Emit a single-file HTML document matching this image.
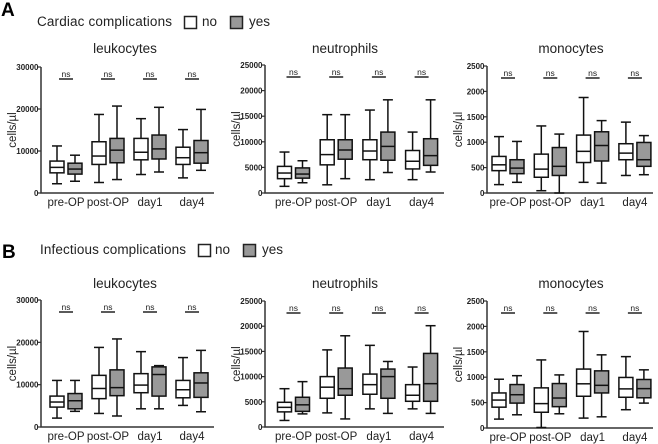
<!DOCTYPE html>
<html><head><meta charset="utf-8"><style>
body{margin:0;background:#fff;}
svg{display:block;font-family:"Liberation Sans",Arial,sans-serif;}
</style></head><body>
<svg id="chart" width="658" height="444" viewBox="0 0 658 444" xmlns="http://www.w3.org/2000/svg">
<g>
<text x="1" y="16" font-size="19" font-weight="bold">A</text>
<text x="37" y="26" font-size="13.5" fill="#222" textLength="135">Cardiac complications</text>
<rect x="184.5" y="16.5" width="12" height="12" fill="#fff" stroke="#222" stroke-width="1.5"/>
<text x="202" y="26" font-size="13.5" fill="#222">no</text>
<rect x="230.5" y="16.5" width="12" height="12" fill="#999" stroke="#222" stroke-width="1.5"/>
<text x="249" y="26" font-size="13.5" fill="#222">yes</text>
</g>
<g>
<text x="2" y="258" font-size="19" font-weight="bold">B</text>
<text x="40" y="254" font-size="13.5" fill="#222" textLength="146">Infectious complications</text>
<rect x="198.5" y="244.5" width="12" height="12" fill="#fff" stroke="#222" stroke-width="1.5"/>
<text x="215" y="254" font-size="13.5" fill="#222">no</text>
<rect x="243.5" y="244.5" width="12" height="12" fill="#999" stroke="#222" stroke-width="1.5"/>
<text x="262" y="254" font-size="13.5" fill="#222">yes</text>
</g>
</svg>
<script>
const categories = ["pre-OP","post-OP","day1","day4"];
// each box: [low, q1, median, q3, high]
const aLeukNo  = [[2200,4800,6100,7600,11200],[2500,6800,8800,12200,18700],[4400,7900,9700,13000,17700],[3600,6800,8400,10900,15100]];
const aLeukYes = [[2800,4500,5700,7100,9000],[3200,7200,10200,13000,20700],[5000,8100,10500,13800,20400],[5400,7100,9600,12500,19900]];
const aNeutNo  = [[1300,2800,3900,5200,8000],[1600,5500,7500,10400,15300],[2600,6500,8200,10400,16200],[2600,4700,6200,8300,11900]];
const aNeutYes = [[2000,2900,3700,4900,6300],[2800,6600,8400,10400,15300],[4000,6400,9100,11900,18200],[4100,5400,7300,10600,18200]];
const aMonoNo  = [[165,440,555,720,1110],[45,310,470,765,1320],[210,600,820,1140,1880],[345,655,785,970,1395]];
const aMonoYes = [[210,380,490,655,1015],[0,345,525,895,1160],[195,630,935,1205,1425],[360,525,655,995,1130]];
const bLeukNo  = [[2100,4700,5900,7300,11000],[3200,6700,9100,12200,18800],[4300,8100,9900,12600,17800],[5100,6900,8800,11000,16400]];
const bLeukYes = [[3700,4300,6200,7900,11000],[2600,7400,9300,13500,20800],[4300,7300,12400,14200,14500],[3600,7000,10400,12800,18100]];
const bNeutNo  = [[1300,3000,3900,4900,7600],[2800,5700,7900,10000,15300],[3600,6500,8400,10500,16200],[3600,5100,6300,8400,11900]];
const bNeutYes = [[2600,3100,4400,5900,9000],[1600,6300,7600,11700,18100],[2700,5700,10000,11500,13000],[2700,5100,8600,14600,20100]];
const bMonoNo  = [[175,410,550,690,960],[10,310,480,790,1340],[195,625,870,1160,1900],[360,605,770,995,1405]];
const bMonoYes = [[260,490,655,855,1030],[280,420,590,875,1045],[220,690,840,1125,1440],[490,595,775,955,1145]];
const leukTicks = [0,10000,20000,30000];
const neutTicks = [0,5000,10000,15000,20000,25000];
const monoTicks = [0,500,1000,1500,2000,2500];
const titles = ["leukocytes","neutrophils","monocytes"];

const svg = document.getElementById('chart');
const NS = "http://www.w3.org/2000/svg";
function mk(tag, attrs, parent){const e=document.createElementNS(NS,tag);for(const k in attrs)e.setAttribute(k,attrs[k]);(parent||svg).appendChild(e);return e;}

const panels = [
 {key:'a-leuk', ax:41, end:214, top:67, bot:193, first:66, step:42, max:30000, ticks:leukTicks, no:aLeukNo, yes:aLeukYes, title:titles[0], tx:125, ty:53},
 {key:'a-neut', ax:265, end:444, top:65, bot:193, first:293.5, step:42.7, max:25000, ticks:neutTicks, no:aNeutNo, yes:aNeutYes, title:titles[1], tx:345, ty:53},
 {key:'a-mono', ax:487, end:653, top:66, bot:193, first:508, step:42.3, max:2500, ticks:monoTicks, no:aMonoNo, yes:aMonoYes, title:titles[2], tx:571, ty:53},
 {key:'b-leuk', ax:41, end:214, top:300, bot:427, first:66, step:42, max:30000, ticks:leukTicks, no:bLeukNo, yes:bLeukYes, title:titles[0], tx:125, ty:288},
 {key:'b-neut', ax:265, end:444, top:301, bot:427, first:293.5, step:42.7, max:25000, ticks:neutTicks, no:bNeutNo, yes:bNeutYes, title:titles[1], tx:345, ty:288},
 {key:'b-mono', ax:487, end:653, top:301, bot:428, first:508, step:42.3, max:2500, ticks:monoTicks, no:bMonoNo, yes:bMonoYes, title:titles[2], tx:571, ty:288}
];

panels.forEach(p=>{
  const g = mk('g',{});
  
  
  const y = v => p.bot - (v/p.max)*(p.bot-p.top);
  const x = i => p.first + p.step*i;
  const t = mk('text',{x:p.tx,y:p.ty,'font-size':13.5,'text-anchor':'middle',fill:'#222'},g);
  t.textContent = p.title;
  
  
  const ax = mk('path',{d:`M${p.ax},${p.top} V${p.bot} H${p.end}`,fill:'none',stroke:'#333','stroke-width':1.5},g);
  
  
  p.ticks.forEach(v=>{
    mk('line',{x1:p.ax-3,x2:p.ax,y1:y(v),y2:y(v),stroke:'#333','stroke-width':1.2},g);
    const tl = mk('text',{x:p.ax-2.5,y:y(v)+3,'font-size':8,'font-weight':'bold','text-anchor':'end',fill:'#222'},g);
    tl.textContent = v;
    
    
  });
  const yl = mk('text',{x:0,y:0,'font-size':11.5,'text-anchor':'middle',fill:'#222',transform:`translate(${p.ax-25},${(p.top+p.bot)/2}) rotate(-90)`},g);
  yl.textContent = 'cells/µl';
  
  
  categories.forEach((c,i)=>{
    const xl = mk('text',{x:x(i),y:p.bot+13,'font-size':11.5,'text-anchor':'middle',fill:'#222'},g);
    xl.textContent = c;
    
    
    const ns = mk('text',{x:x(i),y:p.top+10,'font-size':8.5,'text-anchor':'middle',fill:'#222'},g);
    ns.textContent = 'ns';
    
    
    mk('line',{x1:x(i)-7,x2:x(i)+7,y1:p.top+12,y2:p.top+12,stroke:'#222','stroke-width':1.5},g);
    [[p.no[i],-9,'#fff','no'],[p.yes[i],9,'#999','yes']].forEach(([d,off,fill,s])=>{
      const cx = x(i)+off, w=14;
      const bg = mk('g',{},g);
      
      
      mk('line',{x1:cx,x2:cx,y1:y(d[0]),y2:y(d[4]),stroke:'#111','stroke-width':1.5},bg);
      mk('line',{x1:cx-5,x2:cx+5,y1:y(d[0]),y2:y(d[0]),stroke:'#111','stroke-width':1.5},bg);
      mk('line',{x1:cx-5,x2:cx+5,y1:y(d[4]),y2:y(d[4]),stroke:'#111','stroke-width':1.5},bg);
      mk('rect',{x:cx-w/2,y:y(d[3]),width:w,height:y(d[1])-y(d[3]),fill:fill,stroke:'#111','stroke-width':1.5},bg);
      mk('line',{x1:cx-w/2,x2:cx+w/2,y1:y(d[2]),y2:y(d[2]),stroke:'#111','stroke-width':1.5},bg);
    });
  });
});
</script>
</body></html>
